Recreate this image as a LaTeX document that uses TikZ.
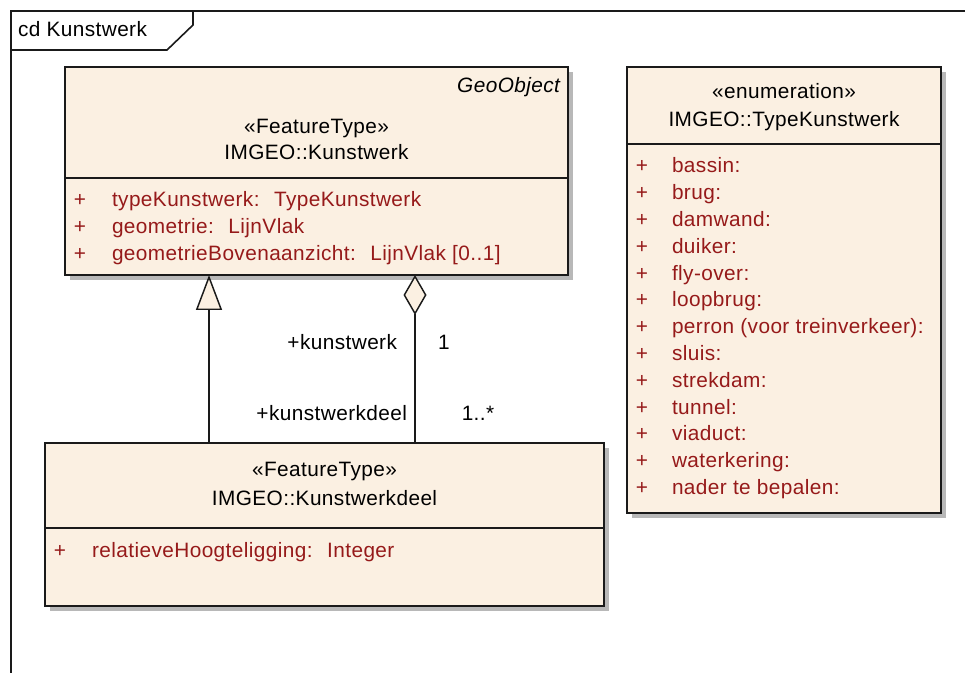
\documentclass[tikz,border=0pt]{standalone}
\usepackage{fontspec}
\setmainfont[LetterSpace=2]{Liberation Sans}
\usetikzlibrary{arrows.meta,shadows}
\definecolor{boxfill}{HTML}{FBF0E2}
\definecolor{attr}{HTML}{961A1A}
\definecolor{lineclr}{HTML}{1A1A1A}
\begin{document}
\begin{tikzpicture}[x=0.75pt,y=-0.75pt,
  every node/.style={font=\fontsize{15.6}{19}\selectfont, inner sep=0pt, outer sep=0pt},
  umlbox/.style={draw=lineclr, line width=1.2pt, fill=boxfill,
    drop shadow={shadow xshift=3.75pt, shadow yshift=-3.75pt, fill=black!28, opacity=1}},
  ctr/.style={anchor=base},
  atxt/.style={anchor=base west, text=attr},
  aplus/.style={anchor=base, text=attr},
  divline/.style={draw=lineclr, line width=1.1pt},
  conn/.style={draw=lineclr, line width=1.1pt},
  gen/.style={conn, -{Triangle[length=26.25pt, width=19.5pt, fill=boxfill]}},
  agg/.style={conn, {Diamond[length=30pt, width=17.25pt, fill=boxfill]}-},
  lbl/.style={anchor=base east},
]
\useasboundingbox (0,0) rectangle (965,673);
\fill[white] (0,0) rectangle (965,673);

% frame
\draw[lineclr, line width=1.2pt] (11,673) -- (11,11) -- (965,11);
\draw[lineclr, line width=1.2pt] (11,50) -- (167,50) -- (193,25) -- (193,11);
\node[anchor=base west] (frametitle) at (18,37) {cd Kunstwerk};

% boxes
\node[umlbox, minimum width=377.25pt, minimum height=156pt] (kw) at (316.5,171) {};
\node[umlbox, minimum width=235.5pt, minimum height=334.5pt] (enum) at (784,290) {};
\node[umlbox, minimum width=419.25pt, minimum height=122.25pt] (kwd) at (324.5,524.5) {};

% dividers
\draw[divline] (kw.west |- 0,178) -- (kw.east |- 0,178);
\draw[divline] (enum.west |- 0,144) -- (enum.east |- 0,144);
\draw[divline] (kwd.west |- 0,528) -- (kwd.east |- 0,528);

% Kunstwerk texts
\node[anchor=base east] (geo) at (560,93) {\itshape GeoObject};
\node[ctr] (kwst) at (316.5,134) {«FeatureType»};
\node[ctr] (kwname) at (316.5,160) {IMGEO::Kunstwerk};
\node[aplus] (kwp1) at (80,207) {+};
\node[atxt] (kwa1) at (112,207) {typeKunstwerk:~ TypeKunstwerk};
\node[aplus] (kwp2) at (80,234) {+};
\node[atxt] (kwa2) at (112,234) {geometrie:~ LijnVlak};
\node[aplus] (kwp3) at (80,261) {+};
\node[atxt] (kwa3) at (112,261) {geometrieBovenaanzicht:~ LijnVlak [0..1]};

% enumeration texts
\node[ctr] (enst) at (784,99) {«enumeration»};
\node[ctr] (enname) at (784,127) {IMGEO::TypeKunstwerk};
\foreach \t [count=\i from 0] in {bassin:, brug:, damwand:, duiker:, fly-over:, loopbrug:, perron (voor treinverkeer):, sluis:, strekdam:, tunnel:, viaduct:, waterkering:, nader te bepalen:} {
  \node[aplus] (enp\i) at (642,173+26.8*\i) {+};
  \node[atxt] (ena\i) at (672,173+26.8*\i) {\t};
}

% Kunstwerkdeel texts
\node[ctr] (kdst) at (324.5,477) {«FeatureType»};
\node[ctr] (kdname) at (324.5,506) {IMGEO::Kunstwerkdeel};
\node[aplus] (kdp1) at (60,558) {+};
\node[atxt] (kda1) at (92,558) {relatieveHoogteligging:~ Integer};

% connectors
\coordinate (gx) at (209,0);
\coordinate (ax) at (415,0);
\draw[gen] (kwd.north -| gx) -- (kw.south -| gx);
\draw[agg] (kw.south -| ax) -- (kwd.north -| ax);

% labels
\node[lbl] (rolekw) at (397,350) {+kunstwerk};
\node[anchor=base] (mult1) at (444,350) {1};
\node[lbl] (rolekwd) at (407,421) {+kunstwerkdeel};
\node[anchor=base] (mult2) at (478,421) {1..*};
\end{tikzpicture}
\end{document}
